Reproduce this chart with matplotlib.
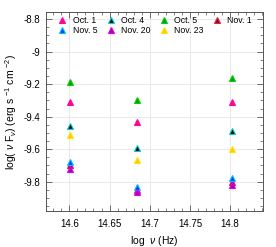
import matplotlib
matplotlib.use("Agg")
import matplotlib.pyplot as plt
from matplotlib.ticker import MultipleLocator

plt.rcParams['font.family'] = ['Liberation Sans', 'DejaVu Sans']
plt.rcParams['mathtext.fontset'] = 'custom'
plt.rcParams['mathtext.rm'] = 'Liberation Sans'
plt.rcParams['mathtext.it'] = 'Liberation Sans:italic'

freq = [14.601, 14.684, 14.803]
labels = ["Oct. 1", "Oct. 4", "Oct. 5", "Nov. 1", "Nov. 5", "Nov. 20", "Nov. 23"]
oct1 = [-9.31, -9.43, -9.31]
oct4 = [-9.455, -9.595, -9.49]
oct5 = [-9.185, -9.30, -9.16]
nov1 = [-9.70, -9.85, -9.80]
nov5 = [-9.68, -9.83, -9.775]
nov20 = [-9.72, -9.865, -9.82]
nov23 = [-9.51, -9.665, -9.60]
series = [oct1, oct4, oct5, nov1, nov5, nov20, nov23]

faces = ["#ff1050", "#000000", "#00a010", "#801030", "#0040ff", "#a000d0", "#ffcc00"]
edges = ["#ff00c0", "#00d0d0", "#00d000", "#e02040", "#00c0ff", "#e000e0", "#ffe000"]

fig = plt.figure(figsize=(2.76, 2.47), dpi=100)
ax = fig.add_axes([0.167, 0.146, 0.786, 0.805])

handles = {}
order = [0, 4, 1, 5, 2, 6, 3]
for i, (vals, lab) in enumerate(zip(series, labels)):
    h, = ax.plot(freq, vals, linestyle='none', marker='^', markersize=5,
                 markerfacecolor=faces[i], markeredgecolor=edges[i],
                 markeredgewidth=0.8, label=lab)
    handles[i] = h

ax.set_xlim(14.571, 14.841)
ax.set_ylim(-9.98, -8.757)
ax.xaxis.set_major_locator(MultipleLocator(0.05))
ax.xaxis.set_minor_locator(MultipleLocator(0.01))
ax.yaxis.set_major_locator(MultipleLocator(0.2))
ax.yaxis.set_minor_locator(MultipleLocator(0.05))
ax.xaxis.set_major_formatter(matplotlib.ticker.FuncFormatter(lambda v, p: f"{v:g}"))
ax.yaxis.set_major_formatter(matplotlib.ticker.FuncFormatter(lambda v, p: f"{v:g}"))
ax.tick_params(which='both', direction='in', top=True, right=True,
               labelsize=7, color='#555555')
ax.tick_params(axis='x', which='major', pad=5.5)
ax.tick_params(axis='y', which='major', pad=4)
ax.tick_params(which='major', length=4, width=0.6)
ax.tick_params(which='minor', length=2, width=0.5)
ax.grid(True, which='major', color='#e6e6e6', linewidth=0.6)
ax.set_axisbelow(True)
for s in ax.spines.values():
    s.set_color('#555555')
    s.set_linewidth(0.7)

ax.set_xlabel(r"log  $\it{\nu}$ (Hz)", fontsize=7.5, labelpad=4)
ax.set_ylabel(r"log( $\it{\nu}$ F$_{\it{\nu}}$) (erg s $^{-1}$ cm $^{-2}$)", fontsize=7.5, labelpad=3)

ax.legend([handles[i] for i in order], [labels[i] for i in order], ncol=4,
          loc='upper left', bbox_to_anchor=(0.035, 1.0), frameon=False,
          fontsize=6.3, handlelength=1.0, handletextpad=0.7, columnspacing=1.0,
          labelspacing=0.05, borderaxespad=0.2, borderpad=0.3)

fig.savefig("out.png", dpi=100)
